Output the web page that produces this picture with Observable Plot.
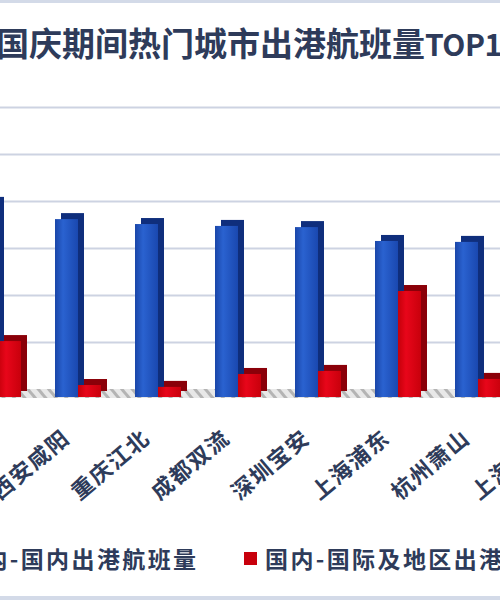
<!DOCTYPE html>
<html>
<head>
<meta charset="utf-8">
<script src="https://cdn.jsdelivr.net/npm/d3@7"></script>
<script src="https://cdn.jsdelivr.net/npm/@observablehq/plot@0.6"></script>
<style>
  html, body { margin: 0; padding: 0; background: #fff; }
  #wrap { position: relative; width: 500px; height: 600px; overflow: hidden; background: #fff;
          font-family: "Noto Sans CJK SC", sans-serif; color: #2e3b5a; }
  #topline { position: absolute; left: 0; top: 0; width: 500px; height: 3px; background: #d3dae8; }
  #botline { position: absolute; left: 0; bottom: 0; width: 500px; height: 4px; background: #d3dae8; }
  #title { position: absolute; left: -4px; top: 0; height: 84px; line-height: 84px; white-space: nowrap;
           font-size: 33px; font-weight: 700; }
  #title .lat { font-size: 30px; letter-spacing: -0.5px; }
  #chart { position: absolute; left: 0; top: 80px; width: 500px; height: 440px; overflow: hidden; }
  #legend { position: absolute; top: 544px; left: 0; height: 28px; width: 500px; font-size: 23px; font-weight: 700; white-space: nowrap; letter-spacing: 2.4px; }
  .item { position: absolute; top: 0; height: 28px; line-height: 28px; display: flex; align-items: center; }
  .sw { width: 13px; height: 13px; margin-right: 8px; flex: none; }
</style>
</head>
<body>
<div id="wrap">
  <div id="topline"></div>
  <div id="title"></div>
  <div id="chart"></div>
  <div id="legend"></div>
  <div id="botline"></div>
</div>
<script>
// ---- data ----
const titleText = "国庆期间热门城市出港航班量";
const titleLatin = "TOP10";
const cities = ["北京首都", "西安咸阳", "重庆江北", "成都双流", "深圳宝安", "上海浦东", "杭州萧山", "上海虹桥"];
const domestic = [8260, 7570, 7360, 7280, 7230, 6640, 6600, 6450];
const international = [2380, 510, 430, 980, 1110, 4510, 770, 300];
const yTicks = [2000, 4000, 6000, 8000, 10000, 12000];
const seriesNames = ["国内-国内出港航班量", "国内-国际及地区出港航班量"];
const seriesColors = ["#1d4fbf", "#c8000c"];

// ---- title ----
document.getElementById("title").innerHTML = titleText + '<span class="lat">' + titleLatin + '</span>';

// ---- table ----
const dom = cities.map((c, i) => ({city: c, value: domestic[i]}));
const intl = cities.map((c, i) => ({city: c, value: international[i]}));

const font = "Noto Sans CJK SC";
const plot = Plot.plot({
  width: 500,
  height: 440,
  marginTop: 27,
  marginBottom: 131,
  marginLeft: 0,
  marginRight: 0,
  style: {fontFamily: font, background: "transparent", overflow: "hidden", color: "#2e3b5a", letterSpacing: "1.5px"},
  x: {type: "band", domain: cities, range: [-40, 600], padding: 0, label: null, axis: null},
  y: {domain: [0, 12000], label: null, axis: null},
  marks: [
    Plot.gridY(yTicks, {stroke: "#cdd3e2", strokeOpacity: 1, strokeWidth: 2}),
    Plot.ruleY([0], {dy: 4, stroke: "url(#floorPat)", strokeWidth: 9}),
    // blue: back (side/top face) then front
    Plot.barY(dom, {x: "city", y: "value", insetLeft: 15, insetRight: 42, dx: 6, dy: 2, fill: "#0f2e7c"}),
    Plot.barY(dom, {x: "city", y: "value", insetLeft: 15, insetRight: 42, dy: 8, fill: "url(#gBlue)"}),
    // red: back then front
    Plot.barY(intl, {x: "city", y: "value", insetLeft: 38, insetRight: 19, dx: 6, dy: 2, fill: "#8a0009"}),
    Plot.barY(intl, {x: "city", y: "value", insetLeft: 38, insetRight: 19, dy: 8, fill: "url(#gRed)"}),
    Plot.text(cities, {x: d => d, frameAnchor: "bottom", dy: 51, dx: -9, rotate: -40, textAnchor: "end",
      fontSize: 22, fontWeight: 700, fill: "#2e3b5a", fontFamily: font})
  ]
});

const svg = d3.select(plot);
const defs = svg.insert("defs", ":first-child");
const gb = defs.append("linearGradient").attr("id", "gBlue").attr("x1", "0").attr("x2", "1").attr("y1", "0").attr("y2", "0");
gb.append("stop").attr("offset", "0").attr("stop-color", "#1a46a8");
gb.append("stop").attr("offset", "0.35").attr("stop-color", "#2a62d0");
gb.append("stop").attr("offset", "1").attr("stop-color", "#1a48b0");
const gr = defs.append("linearGradient").attr("id", "gRed").attr("x1", "0").attr("x2", "1").attr("y1", "0").attr("y2", "0");
gr.append("stop").attr("offset", "0").attr("stop-color", "#c4000a");
gr.append("stop").attr("offset", "0.35").attr("stop-color", "#e8061a");
gr.append("stop").attr("offset", "1").attr("stop-color", "#c8000c");
const pat = defs.append("pattern").attr("id", "floorPat").attr("patternUnits", "userSpaceOnUse")
  .attr("width", 8).attr("height", 8).attr("patternTransform", "rotate(-40)");
pat.append("rect").attr("width", 8).attr("height", 8).attr("fill", "#e8e8e8");
pat.append("rect").attr("width", 3).attr("height", 8).attr("fill", "#b4b4b4");

document.getElementById("chart").appendChild(plot);

// ---- legend ----
const legend = document.getElementById("legend");
const lefts = [-62, 244];
seriesNames.forEach((name, i) => {
  const it = document.createElement("div");
  it.className = "item";
  it.style.left = lefts[i] + "px";
  it.innerHTML = '<span class="sw" style="background:' + seriesColors[i] + '"></span><span>' + name + '</span>';
  legend.appendChild(it);
});
</script>
</body>
</html>
